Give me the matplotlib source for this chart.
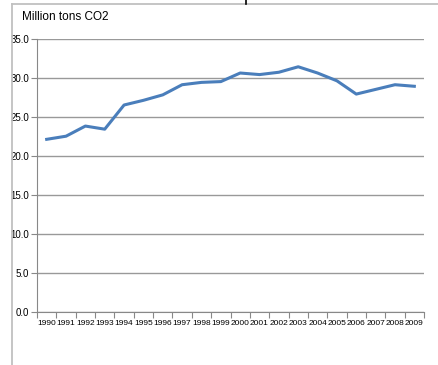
import matplotlib.pyplot as plt
from matplotlib import font_manager
from matplotlib.lines import Line2D
import numpy as np

years = [str(y) for y in range(1990, 2010)]
co2 = [22.1, 22.5, 23.8, 23.4, 26.5, 27.1, 27.8, 29.1, 29.4, 29.5,
       30.6, 30.4, 30.7, 31.4, 30.6, 29.6, 27.9, 28.5, 29.1, 28.9]
yticks = np.arange(0, 35.1, 5)

# narrow face for the tick labels if there is one
try:
    font_manager.findfont('Liberation Sans Narrow', fallback_to_default=False)
    tick_font, xsize, ysize = 'Liberation Sans Narrow', 7, 7
except ValueError:
    tick_font, xsize, ysize = 'Liberation Sans', 6, 7

W, H = 438, 365
fig = plt.figure(figsize=(W / 100, H / 100), dpi=100)

# chart frame (only left and top edges show)
fig.add_artist(Line2D([12 / W, 12 / W], [0, 1 - 4 / H], color='#c0c0c0', lw=1.3))
fig.add_artist(Line2D([12 / W, 1], [1 - 4 / H, 1 - 4 / H], color='#c0c0c0', lw=1.3))
fig.add_artist(Line2D([246 / W, 246 / W], [1, 1 - 4 / H], color='black', lw=1.2))

ax = fig.add_axes([37 / W, 1 - 311.7 / H, (424 - 37) / W, (311.7 - 38.7) / H])
x = np.arange(len(years))
ax.plot(x, co2, color='#4a7ebb', lw=2.2, solid_joinstyle='round')

ax.set_xlim(-0.5, len(years) - 0.5)
ax.set_ylim(0, 35)
ax.set_yticks(yticks)
ax.set_yticklabels([f'{v:.1f}' for v in yticks], fontsize=ysize,
                   family=tick_font)
ax.set_xticks(x)
ax.set_xticklabels(years, fontsize=xsize, family=tick_font)
ax.tick_params(axis='x', length=0, pad=6)
ax.set_xticks(np.arange(-0.5, len(years), 1), minor=True)
ax.tick_params(axis='x', which='minor', length=4, color='#888888', width=0.8)
ax.tick_params(axis='y', length=4, color='#888888', width=0.8, pad=1.5)

ax.grid(axis='y', color='#999999', lw=1)
ax.set_axisbelow(True)
for s in ['top', 'right']:
    ax.spines[s].set_visible(False)
for s in ['left', 'bottom']:
    ax.spines[s].set_color('#888888')
    ax.spines[s].set_linewidth(0.8)

fig.text(22 / W, 1 - 17 / H, 'Million tons CO2', fontsize=8.5, va='center',
         family='Liberation Sans')

fig.savefig('out.png', dpi=100)
